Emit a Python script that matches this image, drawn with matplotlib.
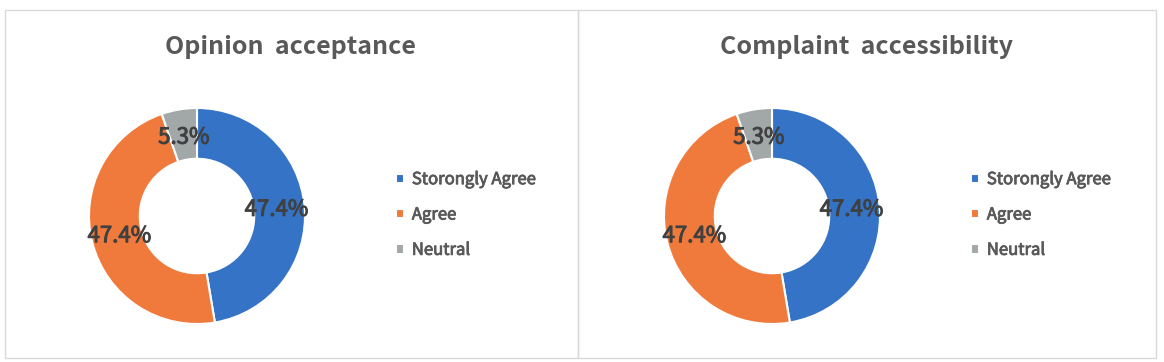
import matplotlib
matplotlib.use("Agg")
import matplotlib.pyplot as plt
import matplotlib.patheffects as pe
from matplotlib.patches import Rectangle

plt.rcParams['font.family'] = ['Noto Sans CJK KR', 'DejaVu Sans']

titles = ["Opinion  acceptance", "Complaint  accessibility"]
categories = ["Storongly Agree", "Agree", "Neutral"]
values_opinion = [47.4, 47.4, 5.3]
values_complaint = [47.4, 47.4, 5.3]
colors = ["#3473C5", "#F07A3C", "#A2A8A8"]

W, H = 1164, 362
fig = plt.figure(figsize=(W / 100, H / 100), dpi=100)

def fx(px):
    return px / W

def fy(py):
    return 1 - py / H

# panel borders
for (x0, x1) in [(5, 578), (578, 1156)]:
    fig.patches.append(Rectangle((fx(x0), fy(358)), fx(x1) - fx(x0), fy(10) - fy(358),
                                 transform=fig.transFigure, fill=False,
                                 edgecolor="#D9D9D9", linewidth=1.0))

panels = [
    dict(title=titles[0], values=values_opinion, cx=197, cy=216, tx=290, lx=396),
    dict(title=titles[1], values=values_complaint, cx=772, cy=216, tx=867, lx=971),
]

R = 108
for p in panels:
    ax = fig.add_axes([fx(p['cx'] - R), fy(p['cy'] + R), 2 * R / W, 2 * R / H])
    wedges, texts, autotexts = ax.pie(
        p['values'], colors=colors, startangle=90, counterclock=False,
        autopct=lambda v: f"{v:.1f}%", pctdistance=0.74,
        wedgeprops=dict(width=0.47, edgecolor="white", linewidth=1.5),
        textprops=dict(color="#404040", fontsize=16),
    )
    for t in autotexts:
        t.set_path_effects([pe.withStroke(linewidth=0.7, foreground="#404040")])
    ax.set_xlim(-1, 1)
    ax.set_ylim(-1, 1)
    ax.set_aspect('equal')
    ax.axis('off')
    fig.text(fx(p['tx']), fy(47), p['title'], ha='center', va='center',
             fontsize=18, fontweight='bold', color="#595959")
    leg = fig.legend(wedges, categories, loc='center left',
               bbox_to_anchor=(fx(p['lx']), fy(215)), frameon=False,
               prop=dict(size=12),
               handlelength=0.5, handleheight=0.5,
               handletextpad=0.45, labelspacing=1.1, labelcolor="#595959",
               borderpad=0, borderaxespad=0)
    for t in leg.get_texts():
        t.set_path_effects([pe.withStroke(linewidth=0.6, foreground="#595959")])

fig.savefig("out.png", dpi=100, facecolor="white")
